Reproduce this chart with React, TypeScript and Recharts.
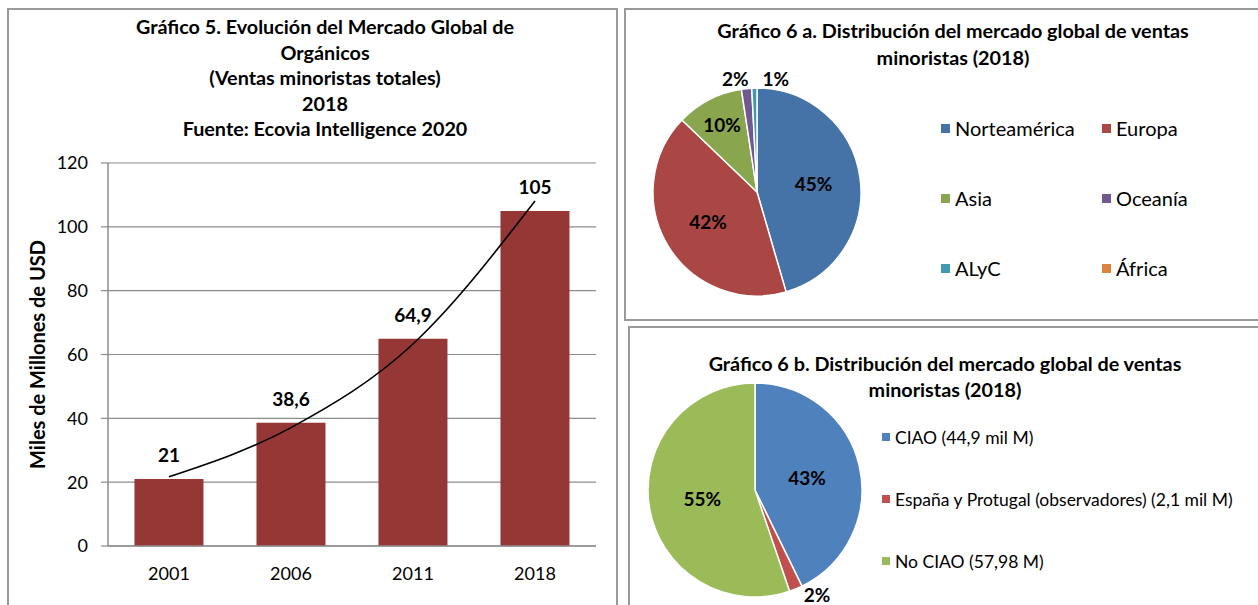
import React from "react";
import {
  ComposedChart,
  Bar,
  Line,
  LabelList,
  XAxis,
  YAxis,
  CartesianGrid,
  PieChart,
  Pie,
  Cell,
  Legend,
} from "recharts";

const FONT = "Lato, 'Open Sans', sans-serif";

// Gráfico 5
const YEARS = ["2001", "2006", "2011", "2018"];
const SALES = [21, 38.6, 64.9, 105];
const TREND = [21.7, 37.1, 63.3, 108.1]; // exponential trendline
const Y_TICKS = [0, 20, 40, 60, 80, 100, 120];

// Gráfico 6 a
const REGIONS = ["Norteamérica", "Europa", "Asia", "Oceanía", "ALyC", "África"];
const REGION_SHARE = [45.4, 41.6, 10.4, 1.6, 0.8, 0];
const REGION_COLORS = ["#4572A7", "#AA4643", "#89A54E", "#71588F", "#4198AF", "#DB843D"];

// Gráfico 6 b
const BLOCS = ["CIAO (44,9 mil M)", "España y Protugal (observadores) (2,1 mil M)", "No CIAO (57,98 M)"];
const BLOC_VALUES = [44.9, 2.1, 57.98];
const BLOC_COLORS = ["#4F81BD", "#C0504D", "#9BBB59"];

const barData = YEARS.map((y, i) => ({ year: y, value: SALES[i], trend: TREND[i] }));
const regionData = REGIONS.map((n, i) => ({ name: n, value: REGION_SHARE[i] }));
const blocData = BLOCS.map((n, i) => ({ name: n, value: BLOC_VALUES[i] }));

const comma = (v: any) => String(v).replace(".", ",");

const panel = (left: number, top: number, width: number, height: number): React.CSSProperties => ({
  position: "absolute",
  left,
  top,
  width,
  height,
  border: "2px solid #9a9a9a",
  boxSizing: "border-box",
});

const titleStyle: React.CSSProperties = {
  position: "absolute",
  fontFamily: FONT,
  fontWeight: 700,
  fontSize: 19.8,
  textAlign: "center",
  color: "#000",
  whiteSpace: "nowrap",
};

function YLabel(props: any) {
  const { viewBox } = props;
  const x = 37;
  const y = viewBox.y + viewBox.height / 2;
  return (
    <text
      x={x}
      y={y}
      transform={`rotate(-90, ${x}, ${y})`}
      textAnchor="middle"
      dominantBaseline="central"
      style={{ fontFamily: FONT, fontWeight: 700, fontSize: 20, fill: "#000" }}>
      Miles de Millones de USD
    </text>
  );
}

const RAD = Math.PI / 180;

const makePieLabel = (inner: number, maxY: number) => (props: any) => {
  const { cx, cy, midAngle, outerRadius, percent, value } = props;
  if (!value) return null;
  const style = { fontFamily: FONT, fontWeight: 700, fontSize: 19, fill: "#000" };
  const txt = `${Math.round(percent * 100)}%`;
  const cos = Math.cos(-midAngle * RAD);
  const sin = Math.sin(-midAngle * RAD);
  if (percent < 0.05) {
    const r = outerRadius + 10;
    const end = r * cos < -8;
    const x = cx + outerRadius * cos + (end ? 2 : 8);
    const y = Math.min(cy + r * sin, maxY);
    return (
      <text x={x} y={y} textAnchor={end ? "end" : "start"} dominantBaseline="central" style={style}>
        {txt}
      </text>
    );
  }
  const r = outerRadius * (percent > 0.2 ? inner : 0.73);
  return (
    <text x={cx + r * cos} y={cy + r * sin} textAnchor="middle" dominantBaseline="central" style={style}>
      {txt}
    </text>
  );
};

function RegionLegend() {
  return (
    <div
      style={{
        display: "grid",
        gridTemplateColumns: "161px 150px",
        rowGap: 46,
        fontFamily: FONT,
        fontSize: 20,
        color: "#000",
      }}>
      {REGIONS.map((n, i) => (
        <div key={n} style={{ display: "flex", alignItems: "center", height: 24 }}>
          <span style={{ width: 9, height: 9, background: REGION_COLORS[i], marginRight: 5 }} />
          {n}
        </div>
      ))}
    </div>
  );
}

function BlocLegend() {
  return (
    <div style={{ fontFamily: FONT, fontSize: 17.5, color: "#000", whiteSpace: "nowrap" }}>
      {BLOCS.map((n, i) => (
        <div key={n} style={{ display: "flex", alignItems: "center", height: 24, marginBottom: 38 }}>
          <span style={{ width: 8, height: 8, background: BLOC_COLORS[i], marginRight: 5 }} />
          {n}
        </div>
      ))}
    </div>
  );
}

export default function App() {
  return (
    <div
      style={{
        position: "absolute",
        left: 0,
        top: 0,
        width: 1258,
        height: 605,
        overflow: "hidden",
        background: "#fff",
      }}>
      <div style={panel(7, 8, 611, 610)} />
      <div style={panel(624, 8, 650, 313)} />
      <div style={panel(628, 326, 650, 300)} />

      <div style={{ ...titleStyle, left: 20, width: 610, top: 14, lineHeight: "25.5px" }}>
        Gráfico 5. Evolución del Mercado Global de
        <br />
        Orgánicos
        <br />
        (Ventas minoristas totales)
        <br />
        2018
        <br />
        Fuente: Ecovia Intelligence 2020
      </div>

      <div style={{ position: "absolute", left: 0, top: 0 }}>
        <ComposedChart
          width={617}
          height={605}
          data={barData}
          margin={{ top: 163, right: 21, bottom: 29, left: 58 }}
          barCategoryGap="21.7%">
          <CartesianGrid vertical={false} stroke="#8c8c8c" strokeWidth={1.2} />
          <XAxis
            dataKey="year"
            height={30}
            axisLine={{ stroke: "#8c8c8c", strokeWidth: 1.5 }}
            tickLine={false}
            tickMargin={15}
            tick={{ fontFamily: FONT, fontSize: 18, fill: "#000" }}
          />
          <YAxis
            domain={[0, 120]}
            ticks={Y_TICKS}
            width={50}
            axisLine={{ stroke: "#8c8c8c", strokeWidth: 1.5 }}
            tickLine={{ stroke: "#8c8c8c", strokeWidth: 1.2 }}
            tickSize={7}
            tickMargin={13}
            tick={{ fontFamily: FONT, fontSize: 18, fill: "#000" }}
            label={<YLabel />}
          />
          <Bar dataKey="value" fill="#953735" isAnimationActive={false}>
            <LabelList
              dataKey="value"
              position="top"
              offset={17}
              formatter={comma}
              style={{ fontFamily: FONT, fontWeight: 700, fontSize: 19, fill: "#000" }}
            />
          </Bar>
          <Line
            dataKey="trend"
            type="monotone"
            stroke="#000"
            strokeWidth={1.6}
            dot={false}
            activeDot={false}
            isAnimationActive={false}
          />
        </ComposedChart>
      </div>

      <div style={{ ...titleStyle, left: 624, width: 658, top: 17, lineHeight: "27px" }}>
        Gráfico 6 a. Distribución del mercado global de ventas
        <br />
        minoristas (2018)
      </div>
      <div style={{ position: "absolute", left: 625, top: 8 }}>
        <PieChart width={633} height={312} margin={{ top: 0, right: 0, bottom: 0, left: 0 }}>
          <Pie
            data={regionData}
            dataKey="value"
            nameKey="name"
            cx={132}
            cy={184}
            outerRadius={104}
            startAngle={90}
            endAngle={-270}
            stroke="#fff"
            strokeWidth={1.5}
            labelLine={false}
            label={makePieLabel(0.55, 300)}
            isAnimationActive={false}>
            {regionData.map((_, i) => (
              <Cell key={i} fill={REGION_COLORS[i]} />
            ))}
          </Pie>
          <Legend
            content={<RegionLegend />}
            wrapperStyle={{ position: "absolute", left: 316, top: 108, width: 320 }}
          />
        </PieChart>
      </div>

      <div style={{ ...titleStyle, left: 628, width: 634, top: 350, lineHeight: "26px" }}>
        Gráfico 6 b. Distribución del mercado global de ventas
        <br />
        minoristas (2018)
      </div>
      <div style={{ position: "absolute", left: 628, top: 326 }}>
        <PieChart width={630} height={279} margin={{ top: 0, right: 0, bottom: 0, left: 0 }}>
          <Pie
            data={blocData}
            dataKey="value"
            nameKey="name"
            cx={127}
            cy={164}
            outerRadius={107}
            startAngle={90}
            endAngle={-270}
            stroke="#fff"
            strokeWidth={1.5}
            labelLine={false}
            label={makePieLabel(0.5, 268)}
            isAnimationActive={false}>
            {blocData.map((_, i) => (
              <Cell key={i} fill={BLOC_COLORS[i]} />
            ))}
          </Pie>
          <Legend
            content={<BlocLegend />}
            wrapperStyle={{ position: "absolute", left: 254, top: 99, width: 380 }}
          />
        </PieChart>
      </div>
    </div>
  );
}
